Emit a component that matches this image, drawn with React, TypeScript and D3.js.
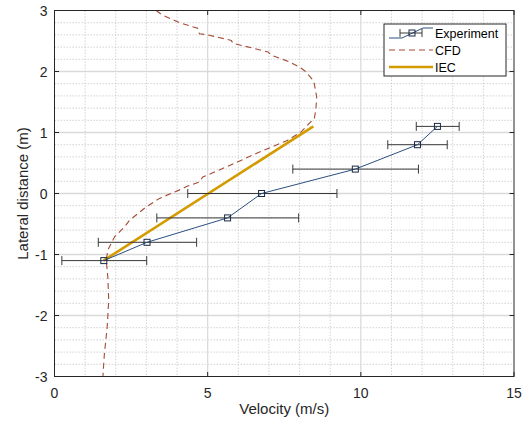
import React from "react";
import * as d3 from "d3";

const expV = [1.61, 3.02, 5.65, 6.76, 9.82, 11.85, 12.5];
const expY = [-1.1, -0.8, -0.4, 0, 0.4, 0.8, 1.1];
const expLo = [0.24, 1.43, 3.34, 4.35, 7.78, 10.88, 11.81];
const expHi = [3.01, 4.64, 7.97, 9.22, 11.88, 12.82, 13.21];

const cfdV = [3.32, 3.45, 3.59, 4.08, 4.67, 4.73, 5.0, 5.77, 5.83, 6.5, 6.97, 7.07, 7.66, 8.0, 8.2, 8.4, 8.48, 8.56, 8.53, 8.48, 8.26, 8.05, 7.6, 6.6, 5.63, 4.84, 4.73, 4.29, 4.18, 3.43, 2.99, 2.45, 2.28, 1.96, 1.74, 1.69, 1.74, 1.77, 1.72, 1.63, 1.58];
const cfdY = [3.0, 2.95, 2.91, 2.8, 2.71, 2.62, 2.6, 2.51, 2.46, 2.38, 2.32, 2.27, 2.16, 2.07, 2.0, 1.88, 1.8, 1.58, 1.37, 1.23, 1.12, 1.01, 0.87, 0.66, 0.44, 0.27, 0.19, 0.11, 0.08, -0.08, -0.22, -0.44, -0.55, -0.71, -0.93, -1.09, -1.37, -1.75, -2.19, -2.62, -3.0];

const iecV = [1.6, 8.45];
const iecY = [-1.1, 1.1];

const xTicks = [0, 5, 10, 15];
const yTicks = [-3, -2, -1, 0, 1, 2, 3];
const legendLabels = ["Experiment", "CFD", "IEC"];

const W = 527, H = 426;
const L = 54.5, R = 514, T = 10.5, B = 376.5;

const C_EXP = "#2b4f7e";
const C_CFD = "#a54a35";
const C_IEC = "#d49b00";
const FONT = "'Liberation Sans', Arial, Helvetica, sans-serif";

export default function App() {
  const x = d3.scaleLinear().domain([0, 15]).range([L, R]);
  const y = d3.scaleLinear().domain([-3, 3]).range([B, T]);
  const line = d3.line<[number, number]>().x(d => x(d[0])).y(d => y(d[1]));

  const xMinor = d3.range(1, 15).filter(v => v % 5 !== 0);
  const yMinor = d3.range(-3, 3.001, 0.2).map(v => Math.round(v * 10) / 10).filter(v => Math.abs(v - Math.round(v)) > 0.01);
  const expPts: [number, number][] = expV.map((v, i) => [v, expY[i]]);
  const cfdPts: [number, number][] = cfdV.map((v, i) => [v, cfdY[i]]);
  const iecPts: [number, number][] = iecV.map((v, i) => [v, iecY[i]]);

  const lgX = 384, lgY = 24, lgW = 122, lgH = 52;
  const rowY = [lgY + 9, lgY + 26, lgY + 43];

  return (
    <svg width={W} height={H} style={{ position: "absolute", left: 0, top: 0, background: "#fff" }} fontFamily={FONT}>
      <rect x={0} y={0} width={W} height={H} fill="#fff" />
      {xMinor.map(v => (
        <line key={"xm" + v} x1={x(v)} x2={x(v)} y1={T} y2={B} stroke="#c8c8c8" strokeWidth={0.8} strokeDasharray="1.5,1.5" />
      ))}
      {yMinor.map(v => (
        <line key={"ym" + v} x1={L} x2={R} y1={y(v)} y2={y(v)} stroke="#c8c8c8" strokeWidth={0.8} strokeDasharray="1.5,1.5" />
      ))}
      {xTicks.filter(v => v > 0 && v < 15).map(v => (
        <line key={"xg" + v} x1={x(v)} x2={x(v)} y1={T} y2={B} stroke="#d9d9d9" strokeWidth={1.2} />
      ))}
      {yTicks.filter(v => v > -3 && v < 3).map(v => (
        <line key={"yg" + v} x1={L} x2={R} y1={y(v)} y2={y(v)} stroke="#d9d9d9" strokeWidth={1.3} />
      ))}
      <path d={line(cfdPts) || ""} fill="none" stroke={C_CFD} strokeWidth={1.1} strokeDasharray="6,4" />
      <path d={line(iecPts) || ""} fill="none" stroke={C_IEC} strokeWidth={2.6} />
      {expV.map((v, i) => (
        <g key={"eb" + i} stroke="#3a3a3a" strokeWidth={1}>
          <line x1={x(expLo[i])} x2={x(expHi[i])} y1={y(expY[i])} y2={y(expY[i])} />
          <line x1={x(expLo[i])} x2={x(expLo[i])} y1={y(expY[i]) - 4.5} y2={y(expY[i]) + 4.5} />
          <line x1={x(expHi[i])} x2={x(expHi[i])} y1={y(expY[i]) - 4.5} y2={y(expY[i]) + 4.5} />
        </g>
      ))}
      <path d={line(expPts) || ""} fill="none" stroke={C_EXP} strokeWidth={1} />
      {expPts.map((p, i) => (
        <rect key={"m" + i} x={x(p[0]) - 3} y={y(p[1]) - 3} width={6} height={6} fill="none" stroke="#1a2a44" strokeWidth={1} />
      ))}
      <rect x={L} y={T} width={R - L} height={B - T} fill="none" stroke="#262626" strokeWidth={1} />
      {xTicks.map(v => (
        <g key={"xt" + v}>
          <line x1={x(v)} x2={x(v)} y1={B} y2={B - 4.5} stroke="#262626" />
          <line x1={x(v)} x2={x(v)} y1={T} y2={T + 4.5} stroke="#262626" />
          <text x={x(v)} y={B + 21} textAnchor="middle" fontSize={14} fill="#262626">{v}</text>
        </g>
      ))}
      {yTicks.map(v => (
        <g key={"yt" + v}>
          <line x1={L} x2={L + 4.5} y1={y(v)} y2={y(v)} stroke="#262626" />
          <line x1={R} x2={R - 4.5} y1={y(v)} y2={y(v)} stroke="#262626" />
          <text x={L - 7} y={y(v) + 5} textAnchor="end" fontSize={14} fill="#262626">{v}</text>
        </g>
      ))}
      <text x={(L + R) / 2} y={414} textAnchor="middle" fontSize={15} fill="#262626">Velocity (m/s)</text>
      <text transform={`translate(28,${(T + B) / 2}) rotate(-90)`} textAnchor="middle" fontSize={15} fill="#262626">Lateral distance (m)</text>
      <rect x={lgX} y={lgY} width={lgW} height={lgH} fill="#fff" stroke="#262626" strokeWidth={1} />
      <g>
        <path d={`M${lgX + 5},${rowY[0] + 5} L${lgX + 18},${rowY[0] + 5} L${lgX + 39},${rowY[0] - 5} L${lgX + 49},${rowY[0] - 5}`} fill="none" stroke={C_EXP} strokeWidth={1} />
        <g stroke="#3a3a3a" strokeWidth={1}>
          <line x1={lgX + 16} x2={lgX + 38} y1={rowY[0]} y2={rowY[0]} />
          <line x1={lgX + 16} x2={lgX + 16} y1={rowY[0] - 4} y2={rowY[0] + 4} />
          <line x1={lgX + 38} x2={lgX + 38} y1={rowY[0] - 4} y2={rowY[0] + 4} />
        </g>
        <rect x={lgX + 25} y={rowY[0] - 3} width={6} height={6} fill="none" stroke="#1a2a44" />
        <line x1={lgX + 5} x2={lgX + 49} y1={rowY[1]} y2={rowY[1]} stroke={C_CFD} strokeWidth={1.1} strokeDasharray="6,4" />
        <line x1={lgX + 5} x2={lgX + 49} y1={rowY[2]} y2={rowY[2]} stroke={C_IEC} strokeWidth={2.6} />
        {legendLabels.map((t, i) => (
          <text key={t} x={lgX + 51} y={rowY[i] + 5} fontSize={12.5} fill="#000">{t}</text>
        ))}
      </g>
    </svg>
  );
}
